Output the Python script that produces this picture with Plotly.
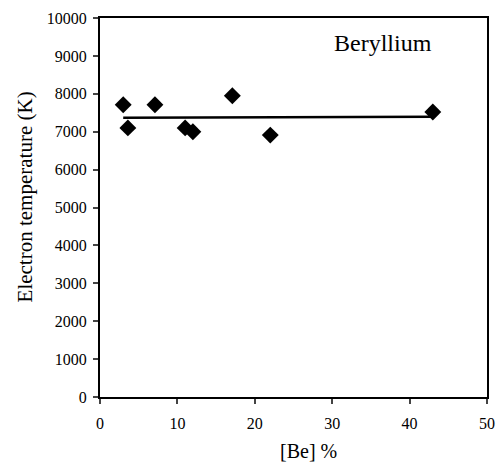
import numpy as np
import plotly.graph_objects as go

be_percent = [3.0, 3.6, 7.1, 11.0, 12.0, 17.1, 22.0, 43.0]
electron_temp = [7710, 7100, 7710, 7100, 7000, 7950, 6910, 7520]

slope, intercept = np.polyfit(be_percent, electron_temp, 1)
fit_x = [min(be_percent), max(be_percent)]
fit_y = [slope * v + intercept for v in fit_x]

x_ticks = [0, 10, 20, 30, 40, 50]
y_ticks = list(range(0, 10001, 1000))
y_labels = [str(v) for v in y_ticks]

font = "Liberation Serif, Times New Roman, serif"

fig = go.Figure()
fig.add_trace(go.Scatter(x=fit_x, y=fit_y, mode="lines",
                         line=dict(color="black", width=2.5), showlegend=False))
fig.add_trace(go.Scatter(x=be_percent, y=electron_temp, mode="markers",
                         marker=dict(symbol="diamond", size=13, color="black"),
                         showlegend=False, cliponaxis=False))

fig.update_layout(
    width=500, height=464,
    margin=dict(l=100, r=13, t=18, b=67, autoexpand=False),
    paper_bgcolor="white", plot_bgcolor="white",
    font=dict(family=font, size=16, color="black"),
    xaxis=dict(range=[0, 50], tickvals=x_ticks, ticks="outside", ticklen=5,
               tickwidth=2, showline=True, linewidth=2, linecolor="black",
               mirror=True, showgrid=False, zeroline=False, automargin=False,
               ticklabelstandoff=6,
               tickfont=dict(family=font, size=16, color="black")),
    yaxis=dict(range=[0, 10000], tickvals=y_ticks, ticktext=y_labels,
               ticks="outside", ticklen=5, ticklabelstandoff=3,
               tickwidth=2, showline=True, linewidth=2, linecolor="black",
               mirror=True, showgrid=False, zeroline=False, automargin=False,
               tickfont=dict(family=font, size=16, color="black")),
    annotations=[
        dict(text="Beryllium", x=0.731, y=0.934, xref="paper", yref="paper",
             xanchor="center", yanchor="middle", showarrow=False,
             font=dict(size=24, family=font, color="black")),
        dict(text="[Be] %", x=0.540, y=-0.1425, xref="paper", yref="paper",
             xanchor="center", yanchor="middle", showarrow=False,
             font=dict(size=20, family=font, color="black")),
        dict(text="Electron temperature (K)", x=-0.194, y=0.529, xref="paper", yref="paper",
             xanchor="center", yanchor="middle", showarrow=False, textangle=-90,
             font=dict(size=21, family=font, color="black")),
    ],
)

fig.write_html("out.html", config={"displayModeBar": False},
               post_script="document.body.style.margin='0';")
